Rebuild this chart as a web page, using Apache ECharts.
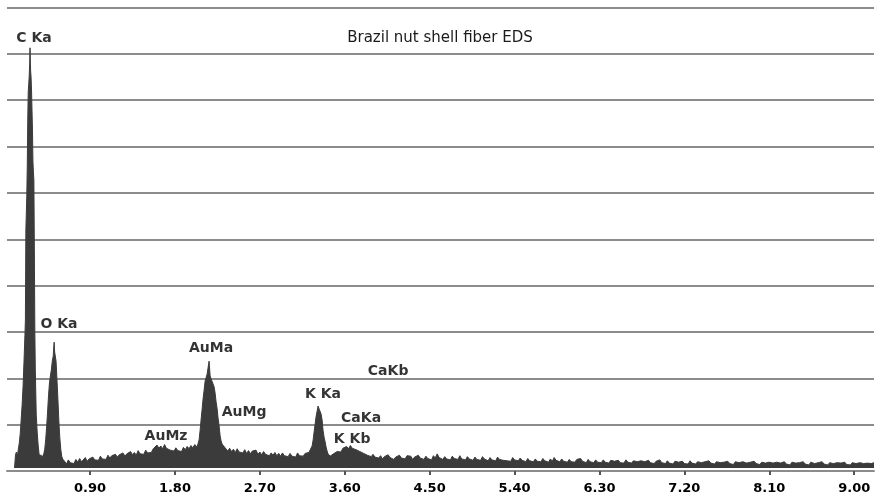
<!DOCTYPE html>
<html>
<head>
<meta charset="utf-8">
<title>Brazil nut shell fiber EDS</title>
<script src="https://cdn.jsdelivr.net/npm/echarts@6.0.0/dist/echarts.min.js"></script>
<style>
  html, body { margin: 0; padding: 0; background: #fff; }
  #eds { width: 880px; height: 501px; }
</style>
</head>
<body>
<div id="eds"></div>
<script>
  // spectrum, [energy keV, counts in % of full scale]
  const cKaPeak = [
    [0.10, 0.65], [0.11, 3.5], [0.12, 4.1], [0.13, 3.2], [0.14, 4.7], [0.15, 6.0], [0.16, 8.0],
    [0.17, 11.0], [0.18, 14.2], [0.19, 18.1], [0.20, 23.5], [0.21, 29.3], [0.215, 32.6],
    [0.22, 52.0], [0.225, 55.7], [0.23, 59.5], [0.235, 66.0], [0.24, 75.7], [0.245, 81.8],
    [0.25, 83.3], [0.255, 85.0], [0.26, 87.6], [0.264, 91.3], [0.27, 86.5], [0.275, 85.0],
    [0.28, 82.2], [0.285, 81.8], [0.29, 73.6], [0.295, 66.7], [0.30, 64.5], [0.305, 62.8],
    [0.31, 47.7], [0.315, 30.4], [0.32, 21.8], [0.33, 12.1], [0.34, 8.4], [0.35, 5.6],
    [0.36, 3.7], [0.37, 3.0], [0.38, 3.5], [0.39, 2.8], [0.40, 3.2], [0.41, 3.7]
  ];
  const oKaPeak = [
    [0.42, 4.7], [0.43, 6.7], [0.44, 9.5], [0.45, 12.7], [0.46, 16.2], [0.47, 19.0], [0.48, 20.5],
    [0.49, 21.8], [0.50, 23.7], [0.51, 24.8], [0.515, 26.5], [0.52, 27.8], [0.525, 25.7],
    [0.53, 25.9], [0.54, 23.7], [0.55, 19.6], [0.56, 15.3], [0.57, 10.6], [0.58, 7.1],
    [0.59, 4.7], [0.60, 3.2], [0.61, 2.6], [0.62, 2.2]
  ];
  const lowBackground = [
    [0.63, 2.1], [0.65, 1.5], [0.67, 2.4], [0.69, 1.8], [0.71, 2.2], [0.73, 1.6], [0.75, 2.5],
    [0.77, 1.9], [0.79, 2.7], [0.81, 2.0], [0.83, 2.3], [0.85, 2.9], [0.87, 2.1], [0.89, 2.6],
    [0.91, 2.2], [0.93, 3.0], [0.95, 2.4], [0.97, 2.8], [0.99, 2.3], [1.01, 3.2], [1.03, 2.6],
    [1.05, 3.0], [1.07, 2.5], [1.09, 3.4], [1.11, 2.8], [1.13, 3.3], [1.15, 2.9], [1.17, 3.6],
    [1.19, 3.0], [1.21, 3.5], [1.23, 3.1], [1.25, 3.9], [1.27, 3.2], [1.29, 3.7], [1.31, 3.3],
    [1.33, 4.2], [1.35, 3.5], [1.37, 4.0], [1.39, 3.4], [1.41, 4.4], [1.43, 3.7], [1.45, 4.1],
    [1.47, 3.6], [1.49, 4.5], [1.51, 3.9], [1.53, 4.3], [1.55, 4.0], [1.57, 4.8], [1.59, 4.4],
    [1.61, 5.6], [1.63, 4.9], [1.65, 5.4], [1.67, 4.8], [1.69, 5.7], [1.71, 4.9], [1.73, 5.2],
    [1.75, 4.5], [1.77, 4.9], [1.79, 4.3], [1.81, 5.0], [1.83, 4.4], [1.85, 4.8], [1.87, 4.2],
    [1.89, 5.1], [1.91, 4.6], [1.93, 5.3], [1.95, 4.8], [1.97, 5.5], [1.99, 5.0], [2.01, 5.7]
  ];
  const auMaPeak = [
    [2.035, 5.2], [2.045, 5.9], [2.056, 6.7], [2.067, 8.8], [2.077, 11.0], [2.088, 13.3],
    [2.098, 15.5], [2.109, 17.4], [2.120, 19.4], [2.130, 20.1], [2.141, 20.9], [2.151, 20.7],
    [2.162, 23.7], [2.173, 20.5], [2.183, 19.9], [2.194, 20.2], [2.204, 19.6], [2.215, 18.2],
    [2.226, 16.8], [2.236, 15.0], [2.247, 13.5], [2.257, 11.5], [2.268, 9.8], [2.279, 7.6],
    [2.289, 6.5], [2.300, 5.8], [2.311, 5.4], [2.332, 5.0]
  ];
  const midBackground = [
    [2.34, 5.0], [2.36, 4.3], [2.38, 4.9], [2.40, 4.2], [2.42, 4.7], [2.44, 4.0], [2.46, 4.8],
    [2.48, 4.1], [2.50, 4.5], [2.52, 3.9], [2.54, 4.6], [2.56, 3.8], [2.58, 4.4], [2.60, 3.7],
    [2.62, 4.3], [2.64, 3.9], [2.66, 4.5], [2.68, 3.6], [2.70, 4.1], [2.72, 3.5], [2.74, 4.2],
    [2.76, 3.6], [2.78, 4.0], [2.80, 3.3], [2.82, 3.9], [2.84, 3.4], [2.86, 4.0], [2.88, 3.3],
    [2.90, 3.8], [2.92, 3.2], [2.94, 3.9], [2.96, 3.3], [2.98, 3.7], [3.00, 3.1], [3.02, 3.8],
    [3.04, 3.2], [3.06, 3.6], [3.08, 3.0], [3.10, 3.9], [3.12, 3.3], [3.14, 3.7], [3.16, 3.2],
    [3.18, 3.8], [3.20, 3.4], [3.22, 4.0]
  ];
  const kKaPeak = [
    [3.233, 4.3], [3.254, 5.4], [3.265, 6.7], [3.275, 8.4], [3.286, 10.1], [3.296, 11.7],
    [3.307, 12.9], [3.317, 14.0], [3.328, 13.4], [3.339, 13.2], [3.349, 12.3], [3.360, 11.0],
    [3.370, 8.8], [3.381, 7.3], [3.392, 6.3], [3.402, 5.2], [3.413, 4.3], [3.423, 3.7],
    [3.445, 3.2]
  ];
  const kKbCaKaBump = [
    [3.46, 3.0], [3.48, 3.7], [3.50, 3.3], [3.52, 4.2], [3.54, 4.6], [3.56, 4.1], [3.58, 4.9],
    [3.60, 4.5], [3.62, 5.3], [3.64, 4.8], [3.66, 5.5], [3.68, 4.9], [3.70, 5.2], [3.72, 4.6],
    [3.74, 4.9], [3.76, 4.2], [3.78, 4.6], [3.80, 3.8], [3.82, 4.1], [3.84, 3.4], [3.86, 3.8],
    [3.88, 3.1], [3.90, 3.6], [3.92, 3.0]
  ];
  const highBackground = [
    [3.94, 3.4], [3.96, 2.8], [3.98, 3.3], [4.00, 2.6], [4.02, 3.1], [4.04, 2.7], [4.06, 3.5], [4.08, 2.9], [4.10, 3.2], [4.12, 2.5],
    [4.14, 3.0], [4.16, 2.7], [4.18, 3.4], [4.20, 2.8], [4.22, 3.1], [4.24, 2.6], [4.26, 3.3], [4.28, 2.9], [4.30, 3.2], [4.32, 2.5],
    [4.34, 3.0], [4.36, 2.6], [4.38, 3.4], [4.40, 2.8], [4.42, 3.1], [4.44, 2.5], [4.46, 3.2], [4.48, 2.7], [4.50, 3.0], [4.52, 2.4],
    [4.54, 3.3], [4.56, 2.8], [4.58, 3.7], [4.60, 2.9], [4.62, 3.2], [4.64, 2.5], [4.66, 3.1], [4.68, 2.6], [4.70, 3.0], [4.72, 2.4],
    [4.74, 3.2], [4.76, 2.7], [4.78, 3.0], [4.80, 2.5], [4.82, 3.3], [4.84, 2.6], [4.86, 2.9], [4.88, 2.4], [4.90, 3.1], [4.92, 2.6],
    [4.94, 2.9], [4.96, 2.3], [4.98, 3.0], [5.00, 2.5], [5.02, 2.8], [5.04, 2.3], [5.06, 3.1], [5.08, 2.6], [5.10, 2.8], [5.12, 2.2],
    [5.14, 2.9], [5.16, 2.4], [5.18, 2.7], [5.20, 2.2], [5.22, 3.0], [5.24, 2.5], [5.26, 2.8], [5.28, 2.3], [5.30, 2.7], [5.32, 2.2],
    [5.34, 2.6], [5.36, 2.1], [5.38, 2.9], [5.40, 2.4], [5.42, 2.7], [5.44, 2.2], [5.46, 2.8], [5.48, 2.3], [5.50, 2.5], [5.52, 2.0],
    [5.54, 2.7], [5.56, 2.2], [5.58, 2.5], [5.60, 2.0], [5.62, 2.6], [5.64, 2.1], [5.66, 2.4], [5.68, 2.0], [5.70, 2.7], [5.72, 2.2],
    [5.74, 2.4], [5.76, 1.9], [5.78, 2.6], [5.80, 2.1], [5.82, 2.9], [5.84, 2.3], [5.86, 2.5], [5.88, 2.0], [5.90, 2.6], [5.92, 2.1],
    [5.94, 2.4], [5.96, 1.9], [5.98, 2.5], [6.00, 2.0], [6.02, 2.3], [6.04, 1.9], [6.06, 2.5], [6.08, 2.1], [6.10, 2.7], [6.12, 2.1],
    [6.14, 2.3], [6.16, 1.8], [6.18, 2.5], [6.20, 2.0], [6.22, 2.2], [6.24, 1.8], [6.26, 2.4], [6.28, 1.9], [6.30, 2.2], [6.32, 1.8],
    [6.34, 2.4], [6.36, 1.9], [6.38, 2.1], [6.40, 1.7], [6.42, 2.3], [6.44, 1.9], [6.46, 2.1], [6.48, 1.7], [6.50, 2.3], [6.52, 1.8],
    [6.54, 2.0], [6.56, 1.7], [6.58, 2.4], [6.60, 1.9], [6.62, 2.1], [6.64, 1.7], [6.66, 2.2], [6.68, 1.8], [6.70, 2.0], [6.72, 1.6],
    [6.74, 2.2], [6.76, 1.8], [6.78, 2.0], [6.80, 1.6], [6.82, 2.3], [6.84, 1.8], [6.86, 2.0], [6.88, 1.6], [6.90, 2.1], [6.92, 1.7],
    [6.94, 2.4], [6.96, 1.8], [6.98, 2.0], [7.00, 1.6], [7.02, 2.2], [7.04, 1.7], [7.06, 1.9], [7.08, 1.5], [7.10, 2.1], [7.12, 1.7],
    [7.14, 1.9], [7.16, 1.5], [7.18, 2.1], [7.20, 1.6], [7.22, 1.9], [7.24, 1.5], [7.26, 2.2], [7.28, 1.7], [7.30, 1.8], [7.32, 1.5],
    [7.34, 2.0], [7.36, 1.6], [7.38, 1.8], [7.40, 1.4], [7.42, 2.0], [7.44, 1.6], [7.46, 2.2], [7.48, 1.7], [7.50, 1.8], [7.52, 1.5],
    [7.54, 2.0], [7.56, 1.6], [7.58, 1.8], [7.60, 1.4], [7.62, 1.9], [7.64, 1.5], [7.66, 2.1], [7.68, 1.6], [7.70, 1.8], [7.72, 1.4],
    [7.74, 2.0], [7.76, 1.6], [7.78, 1.8], [7.80, 1.4], [7.82, 2.0], [7.84, 1.6], [7.86, 1.7], [7.88, 1.4], [7.90, 1.9], [7.92, 1.5],
    [7.94, 2.1], [7.96, 1.6], [7.98, 1.8], [8.00, 1.4], [8.02, 1.9], [8.04, 1.5], [8.06, 1.7], [8.08, 1.4], [8.10, 1.9], [8.12, 1.5],
    [8.14, 1.7], [8.16, 1.3], [8.18, 1.9], [8.20, 1.5], [8.22, 1.7], [8.24, 1.4], [8.26, 2.0], [8.28, 1.5], [8.30, 1.7], [8.32, 1.3],
    [8.34, 1.9], [8.36, 1.5], [8.38, 1.7], [8.40, 1.3], [8.42, 1.8], [8.44, 1.4], [8.46, 2.0], [8.48, 1.5], [8.50, 1.7], [8.52, 1.3],
    [8.54, 1.9], [8.56, 1.5], [8.58, 1.6], [8.60, 1.3], [8.62, 1.8], [8.64, 1.4], [8.66, 2.0], [8.68, 1.5], [8.70, 1.7], [8.72, 1.3],
    [8.74, 1.8], [8.76, 1.4], [8.78, 1.6], [8.80, 1.3], [8.82, 1.8], [8.84, 1.4], [8.86, 1.7], [8.88, 1.3], [8.90, 1.9], [8.92, 1.4],
    [8.94, 1.6], [8.96, 1.3], [8.98, 1.8], [9.00, 1.4], [9.02, 1.6], [9.04, 1.2], [9.06, 1.8], [9.08, 1.4], [9.10, 1.6], [9.12, 1.3],
    [9.14, 1.7], [9.16, 1.3], [9.18, 1.6], [9.20, 1.4], [9.21, 1.8]
  ];

  // energy ticks on the bottom axis (keV)
  const xTicks = [0.9, 1.8, 2.7, 3.6, 4.5, 5.4, 6.3, 7.2, 8.1, 9.0];

  // peak annotations, anchored in keV / counts
  const labelNames  = ['C Ka', 'O Ka', 'AuMz', 'AuMa', 'AuMg', 'K Ka', 'CaKa', 'K Kb', 'CaKb'];
  const labelKeV    = [0.306, 0.571, 1.706, 2.183, 2.533, 3.370, 3.773, 3.678, 4.060];
  const labelCounts = [93.4, 31.7, 7.55, 26.5, 12.7, 16.6, 11.4, 6.9, 21.6];

  const spectrum = [].concat(cKaPeak, oKaPeak, lowBackground, auMaPeak, midBackground,
    kKaPeak, kKbCaKaBump, highBackground);

  const FONT = 'DejaVu Sans';
  const GRID_GRAY = '#8c8c8c';
  const FILL = '#3b3b3b';

  const chart = echarts.init(document.getElementById('eds'), null, {renderer: 'canvas'});

  const option = {
    animation: false,
    backgroundColor: '#fff',
    title: {
      text: 'Brazil nut shell fiber EDS',
      left: 'center',
      top: 26,
      textStyle: {fontFamily: FONT, fontWeight: 'normal', fontSize: 15, color: '#1a1a1a'}
    },
    grid: {left: 7, right: 6, top: 7.5, bottom: 30},
    xAxis: {
      type: 'value',
      min: 0.02,
      max: 9.21,
      offset: 4,
      axisLine: {show: true, lineStyle: {color: GRID_GRAY, width: 2}},
      axisTick: {show: true, length: 4, customValues: xTicks, lineStyle: {color: '#555', width: 2}},
      axisLabel: {
        customValues: xTicks,
        formatter: v => v.toFixed(2),
        margin: 7,
        fontFamily: FONT,
        fontWeight: 'bold',
        fontSize: 13,
        color: '#000'
      },
      splitLine: {show: false}
    },
    yAxis: {
      type: 'value',
      min: 0,
      max: 100,
      interval: 10,
      axisLine: {show: false},
      axisTick: {show: false},
      axisLabel: {show: false},
      splitLine: {lineStyle: {color: GRID_GRAY, width: 2}}
    },
    series: [
      {
        name: 'EDS',
        type: 'line',
        data: spectrum,
        symbol: 'none',
        silent: true,
        lineStyle: {color: FILL, width: 1},
        areaStyle: {color: FILL, opacity: 1, origin: 0.65}
      },
      {
        name: 'peaks',
        type: 'scatter',
        symbolSize: 0,
        silent: true,
        z: 5,
        data: labelNames.map((n, i) => ({name: n, value: [labelKeV[i], labelCounts[i]]})),
        label: {
          show: true,
          position: 'inside',
          formatter: '{b}',
          fontFamily: FONT,
          fontWeight: 'bold',
          fontSize: 14,
          color: '#000'
        }
      }
    ]
  };
  chart.setOption(option);
</script>
</body>
</html>
